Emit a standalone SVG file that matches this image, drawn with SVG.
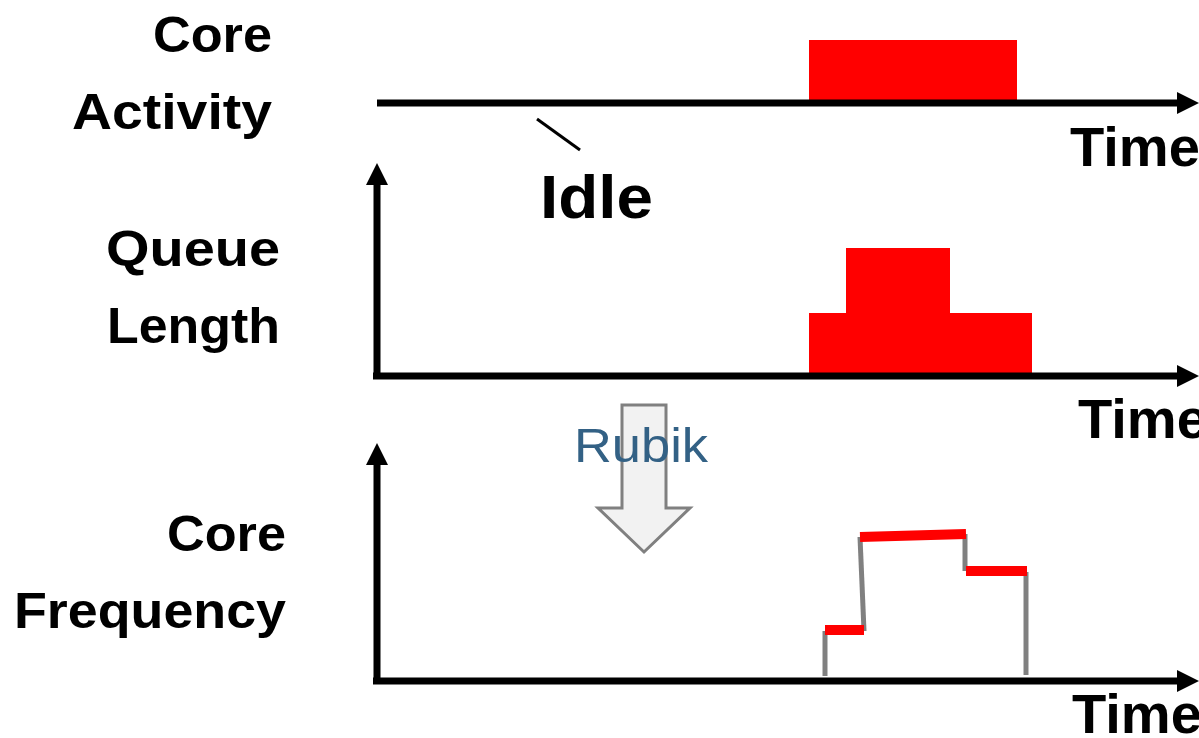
<svg xmlns="http://www.w3.org/2000/svg" width="1199" height="738" viewBox="0 0 1199 738">
  <style>
    .lbl { font-family: "Liberation Sans", Arial, sans-serif; font-weight: bold; fill: #000; }
    .axis { stroke: #000; stroke-width: 7; fill: none; }
    .bar { fill: #ff0000; }
    .step { stroke: #808080; stroke-width: 5; fill: none; }
    .lvl { stroke: #ff0000; stroke-width: 10; fill: none; }
  </style>
  <defs>
    <marker id="ah" markerUnits="userSpaceOnUse" markerWidth="22" markerHeight="22" refX="0" refY="11" orient="auto">
      <path d="M0,0 L22,11 L0,22 Z" fill="#000"/>
    </marker>
  </defs>
  <rect width="1199" height="738" fill="#fff"/>

  <!-- row labels -->
  <g id="label-activity">
    <text class="lbl" x="272" y="52" font-size="50" text-anchor="end" textLength="119" lengthAdjust="spacingAndGlyphs">Core</text>
    <text class="lbl" x="272" y="129" font-size="50" text-anchor="end" textLength="200" lengthAdjust="spacingAndGlyphs">Activity</text>
  </g>
  <g id="label-queue">
    <text class="lbl" x="280" y="266" font-size="50" text-anchor="end" textLength="174" lengthAdjust="spacingAndGlyphs">Queue</text>
    <text class="lbl" x="280" y="343" font-size="50" text-anchor="end" textLength="173" lengthAdjust="spacingAndGlyphs">Length</text>
  </g>
  <g id="label-frequency">
    <text class="lbl" x="286" y="551" font-size="50" text-anchor="end" textLength="119" lengthAdjust="spacingAndGlyphs">Core</text>
    <text class="lbl" x="286" y="628" font-size="50" text-anchor="end" textLength="272" lengthAdjust="spacingAndGlyphs">Frequency</text>
  </g>

  <!-- core activity plot -->
  <g id="activity-plot">
    <rect class="bar" x="809" y="40" width="208" height="61"/>
    <text class="lbl" x="1070" y="166" font-size="56" textLength="130" lengthAdjust="spacingAndGlyphs">Time</text>
  </g>
  <g id="idle-note">
    <line x1="537" y1="119" x2="580" y2="150" stroke="#000" stroke-width="3"/>
    <text class="lbl" x="540" y="218" font-size="62" textLength="113" lengthAdjust="spacingAndGlyphs">Idle</text>
  </g>

  <!-- queue length plot -->
  <g id="queue-plot">
    <rect class="bar" x="809" y="313" width="223" height="61"/>
    <rect class="bar" x="846" y="248" width="104" height="66"/>
    <text class="lbl" x="1078" y="438" font-size="56" textLength="130" lengthAdjust="spacingAndGlyphs">Time</text>
  </g>

  <!-- frequency plot -->
  <g id="frequency-plot">
    <polyline class="step" points="825,676 825,631"/>
    <polyline class="step" points="864,631 860,537"/>
    <polyline class="step" points="965,534 965,571"/>
    <polyline class="step" points="1026,572 1026,675"/>
    <line class="lvl" x1="825" y1="630" x2="864" y2="630"/>
    <line class="lvl" x1="860" y1="537" x2="966" y2="534"/>
    <line class="lvl" x1="966" y1="571" x2="1027" y2="571"/>
    <text class="lbl" x="1072" y="733" font-size="56" textLength="130" lengthAdjust="spacingAndGlyphs">Time</text>
  </g>

  <!-- Rubik transition arrow -->
  <g id="rubik-arrow">
    <path d="M622,405 L666,405 L666,508 L690,508 L644,552 L598,508 L622,508 Z" fill="#f2f2f2" stroke="#808080" stroke-width="3"/>
    <text x="574" y="462" font-family="'Liberation Sans', Arial, sans-serif" font-size="48" fill="#336185" textLength="134" lengthAdjust="spacingAndGlyphs">Rubik</text>
  </g>

  <!-- axes -->
  <g id="connectors">
    <line class="axis" x1="377" y1="103" x2="1177" y2="103" marker-end="url(#ah)"/>
    <line class="axis" x1="377" y1="377" x2="377" y2="185" marker-end="url(#ah)"/>
    <line class="axis" x1="373" y1="376" x2="1177" y2="376" marker-end="url(#ah)"/>
    <line class="axis" x1="377" y1="681" x2="377" y2="465" marker-end="url(#ah)"/>
    <line class="axis" x1="373" y1="681" x2="1177" y2="681" marker-end="url(#ah)"/>
  </g>
</svg>
